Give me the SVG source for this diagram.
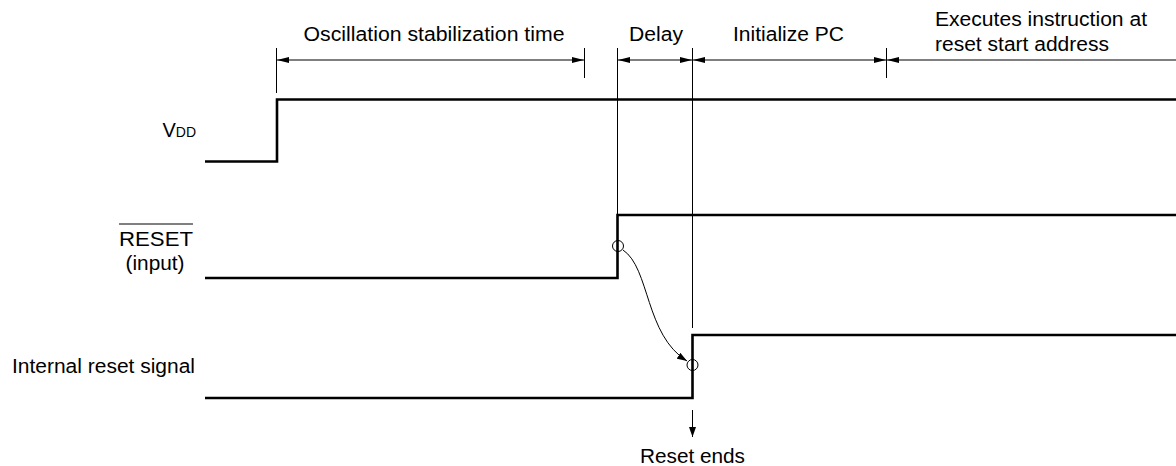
<svg xmlns="http://www.w3.org/2000/svg" width="1176" height="466" viewBox="0 0 1176 466">
<style>
text{font-family:"Liberation Sans",Arial,sans-serif;font-size:20px;fill:#000}
.sig{fill:none;stroke:#000;stroke-width:2.6}
.thin{fill:none;stroke:#000;stroke-width:1}
.dim{fill:none;stroke:#000;stroke-width:1.2}
</style>
<defs>
<marker id="ah" viewBox="0 0 12 6" refX="12" refY="3" markerWidth="12" markerHeight="6" markerUnits="userSpaceOnUse" orient="auto-start-reverse"><path d="M0,0 L12,3 L0,6 Z" fill="#000"/></marker>
<marker id="ah2" viewBox="0 0 10 7" refX="10" refY="3.5" markerWidth="10" markerHeight="7" markerUnits="userSpaceOnUse" orient="auto"><path d="M0,0 L10,3.5 L0,7 Z" fill="#000"/></marker>
</defs>
<rect width="1176" height="466" fill="#fff"/>
<g id="labels">
<text x="196" y="137" text-anchor="end">V<tspan font-size="14">DD</tspan></text>
<text x="156" y="246" text-anchor="middle" textLength="74" lengthAdjust="spacingAndGlyphs">RESET</text>
<line x1="119" y1="224" x2="193" y2="224" class="thin"/>
<text x="155" y="270" text-anchor="middle" textLength="59" lengthAdjust="spacingAndGlyphs">(input)</text>
<text x="12" y="373" textLength="183" lengthAdjust="spacingAndGlyphs">Internal reset signal</text>
</g>
<g id="vdd"><polyline class="sig" points="205,161.5 277,161.5 277,99.5 1176,99.5"/></g>
<g id="reset"><polyline class="sig" points="205,278 617.5,278 617.5,215 1176,215"/></g>
<g id="internal"><polyline class="sig" points="205,398 692.5,398 692.5,335 1176,335"/></g>
<g id="timing">
<text x="434" y="41" text-anchor="middle" textLength="261" lengthAdjust="spacingAndGlyphs">Oscillation stabilization time</text>
<text x="656" y="41" text-anchor="middle" textLength="54" lengthAdjust="spacingAndGlyphs">Delay</text>
<text x="788.5" y="41" text-anchor="middle" textLength="111" lengthAdjust="spacingAndGlyphs">Initialize PC</text>
<text x="935" y="26" textLength="212" lengthAdjust="spacingAndGlyphs">Executes instruction at</text>
<text x="935" y="51" textLength="174" lengthAdjust="spacingAndGlyphs">reset start address</text>
<text x="692.5" y="463" text-anchor="middle" textLength="105" lengthAdjust="spacingAndGlyphs">Reset ends</text>
</g>
<g id="connectors">
<line class="thin" x1="276.5" y1="48" x2="276.5" y2="93"/>
<line class="thin" x1="584.5" y1="48" x2="584.5" y2="78"/>
<line class="thin" x1="617.5" y1="48" x2="617.5" y2="215"/>
<line class="thin" x1="692.5" y1="48" x2="692.5" y2="328"/>
<line class="thin" x1="886.5" y1="48" x2="886.5" y2="78"/>
<line class="dim" x1="277" y1="60" x2="584" y2="60" marker-start="url(#ah)" marker-end="url(#ah)"/>
<line class="dim" x1="618" y1="60" x2="692" y2="60" marker-start="url(#ah)" marker-end="url(#ah)"/>
<line class="dim" x1="693" y1="60" x2="886" y2="60" marker-start="url(#ah)" marker-end="url(#ah)"/>
<line class="dim" x1="887" y1="60" x2="1176" y2="60" marker-start="url(#ah)"/>
<circle class="thin" cx="618" cy="246" r="5.5"/>
<circle class="thin" cx="692.5" cy="365" r="5.5"/>
<path class="thin" d="M623,250 C650,268 645,335 687,361" marker-end="url(#ah2)"/>
<line class="thin" x1="692.5" y1="410" x2="692.5" y2="437" marker-end="url(#ah2)"/>
</g>
</svg>
